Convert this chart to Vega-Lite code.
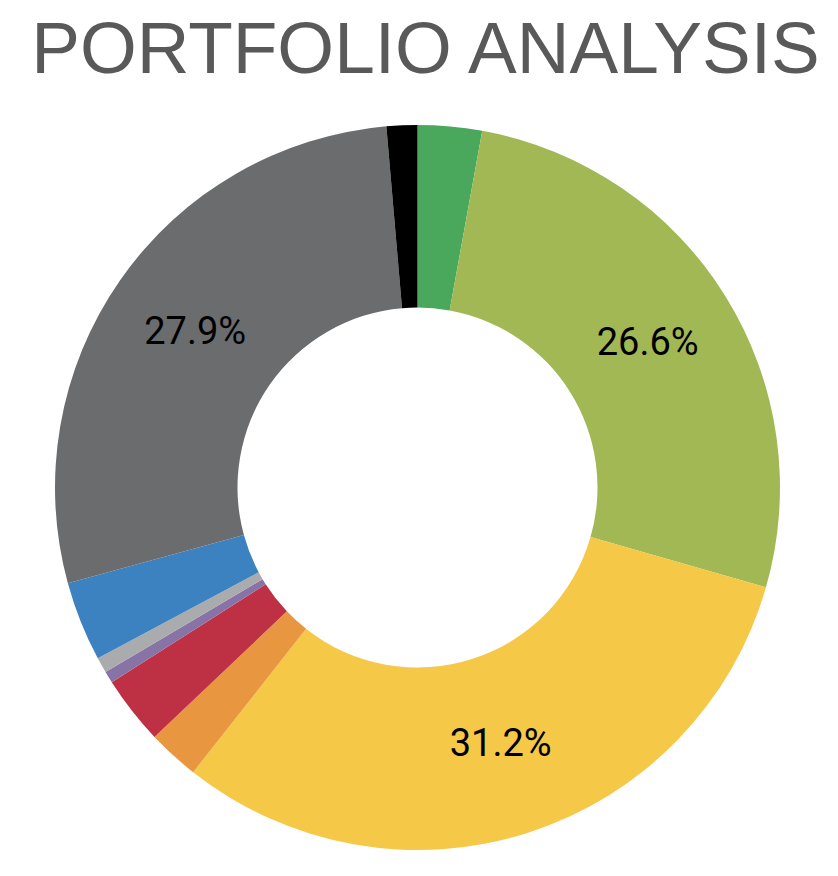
{
  "$schema": "https://vega.github.io/schema/vega-lite/v6.json",
  "width": 835,
  "height": 803,
  "autosize": {"type": "pad"},
  "padding": {"top": 15, "left": 0, "right": 0, "bottom": 0},
  "background": "white",
  "title": {
    "text": "PORTFOLIO ANALYSIS",
    "font": "Liberation Sans",
    "fontSize": 73,
    "fontWeight": "normal",
    "color": "#595959",
    "anchor": "middle",
    "baseline": "alphabetic",
    "offset": -60,
    "dx": 8
  },
  "config": {"view": {"stroke": null}},
  "data": {
    "values": [
      {"order": 1, "name": "Green", "share": 0.0286},
      {"order": 2, "name": "Olive", "share": 0.266},
      {"order": 3, "name": "Yellow", "share": 0.312},
      {"order": 4, "name": "Orange", "share": 0.023},
      {"order": 5, "name": "Red", "share": 0.0305},
      {"order": 6, "name": "Purple", "share": 0.0053},
      {"order": 7, "name": "Light Grey", "share": 0.0069},
      {"order": 8, "name": "Blue", "share": 0.0356},
      {"order": 9, "name": "Dark Grey", "share": 0.279},
      {"order": 10, "name": "Black", "share": 0.0137}
    ]
  },
  "encoding": {
    "theta": {"field": "share", "type": "quantitative", "stack": true},
    "order": {"field": "order", "type": "quantitative"}
  },
  "layer": [
    {
      "mark": {"type": "arc", "innerRadius": 180, "outerRadius": 362.5, "stroke": null},
      "encoding": {
        "color": {
          "field": "name",
          "type": "nominal",
          "legend": null,
          "scale": {
            "domain": ["Green", "Olive", "Yellow", "Orange", "Red", "Purple", "Light Grey", "Blue", "Dark Grey", "Black"],
            "range": ["#4aa85c", "#a1b854", "#f5c847", "#e8963f", "#be3144", "#8873a6", "#aaabad", "#3d82c0", "#6b6c6e", "#000000"]
          }
        }
      }
    },
    {
      "mark": {"type": "text", "radius": 271, "font": "Roboto", "fontSize": 38, "color": "#000000", "baseline": "middle", "align": "center"},
      "encoding": {
        "text": {"field": "share", "type": "quantitative", "format": ".1%"},
        "opacity": {"condition": {"test": "datum.share > 0.1", "value": 1}, "value": 0}
      }
    }
  ]
}
